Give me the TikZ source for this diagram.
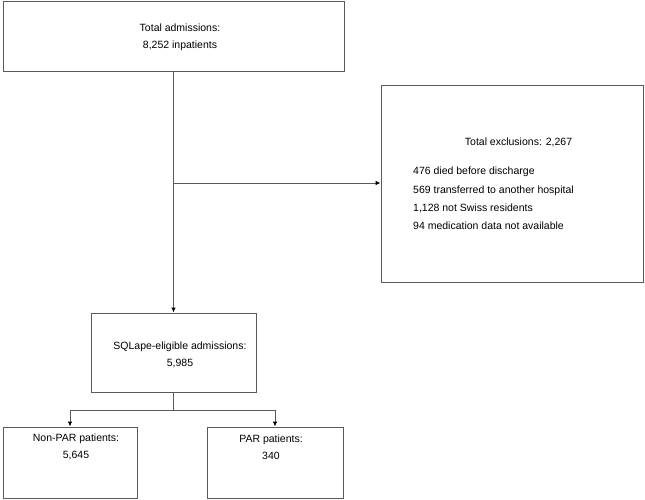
\documentclass[tikz,border=0pt]{standalone}
\usepackage{fontspec}
\setmainfont{Liberation Sans}
\usetikzlibrary{arrows.meta}
\definecolor{linegray}{HTML}{5A5A5A}
\begin{document}
\begin{tikzpicture}[x=1pt,y=-1pt,
  box/.style={draw=linegray,line width=0.9pt,rectangle,inner sep=0pt},
  txt/.style={font=\fontsize{10.5}{17.5}\selectfont,inner sep=0pt,align=center},
  conn/.style={draw=linegray,line width=0.9pt},
  arr/.style={conn,-{Latex[length=5pt,width=4.5pt,color=black]}}]
\useasboundingbox (0,0) rectangle (645,500);
% boxes
\node[box,minimum width=341pt,minimum height=70pt] (top) at (173.5,36.5) {};
\node[box,minimum width=262pt,minimum height=197pt] (excl) at (512,183.5) {};
\node[box,minimum width=165pt,minimum height=79pt] (sq) at (173.5,352.5) {};
\node[box,minimum width=134pt,minimum height=71pt] (np) at (70,462.5) {};
\node[box,minimum width=136pt,minimum height=71pt] (par) at (275,462.5) {};
% texts
\node[txt] (toptxt) at (180,37.5) {Total admissions:\\8,252 inpatients};
\node[txt] (excltitle) at (518.5,142) {Total exclusions: 2,267};
\node[txt,align=left,anchor=west,font=\fontsize{10.5}{18.4}\selectfont] (excllist) at (413,198.5)
  {476 died before discharge\\569 transferred to another hospital\\1,128 not Swiss residents\\94 medication data not available};
\node[txt] (sqtxt) at (180,355) {SQLape-eligible admissions:\\5,985};
\node[txt] (nptxt) at (76,447) {Non-PAR patients:\\5,645};
\node[txt] (partxt) at (271,447) {PAR patients:\\340};
% connectors
\coordinate (branch) at (173.5,183);
\coordinate (split) at (173.5,410);
\draw[arr] (top.south) -- (sq.north);
\draw[arr] (branch) -- (excl.west|-branch);
\draw[conn] (sq.south) -- (split);
\draw[arr] (split) -| (np.north);
\draw[arr] (split) -| (par.north);
\end{tikzpicture}
\end{document}
